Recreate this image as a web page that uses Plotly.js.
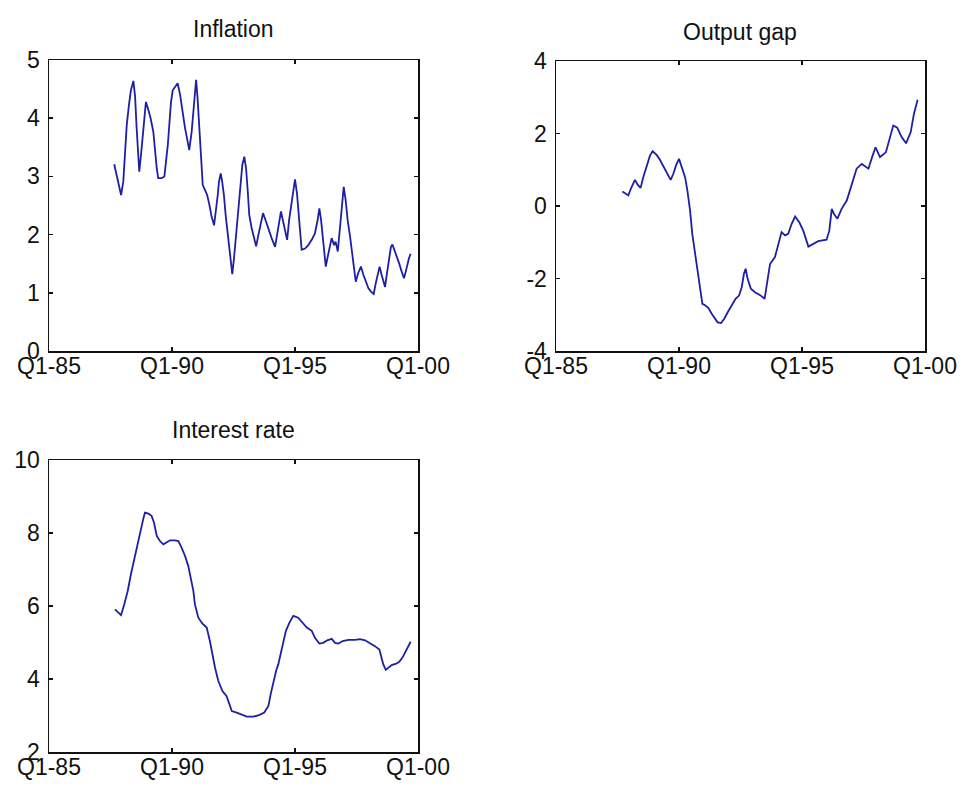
<!DOCTYPE html>
<html>
<head>
<meta charset="utf-8">
<script src="https://cdn.plot.ly/plotly-3.0.1.min.js"></script>
<style>html,body{margin:0;padding:0;background:#fff;}#chart{width:964px;height:789px;}</style>
</head>
<body>
<div id="chart"></div>
<script>
// ---- Data ----
const tickYears = [1985, 1990, 1995, 2000];
const tickLabels = ['Q1-85', 'Q1-90', 'Q1-95', 'Q1-00'];
const panelTitles = ['Inflation', 'Output gap', 'Interest rate'];

const inflationX = [
  1987.65,1987.82,1987.93,1988.02,1988.09,1988.16,1988.25,1988.33,1988.43,1988.50,
  1988.56,1988.63,1988.67,1988.74,1988.81,1988.87,1988.94,1989.04,1989.13,1989.24,
  1989.31,1989.38,1989.44,1989.58,1989.69,1989.76,1989.83,1989.89,1989.96,1990.03,
  1990.12,1990.23,1990.33,1990.42,1990.53,1990.60,1990.70,1990.80,1990.87,1990.93,
  1990.98,1991.04,1991.11,1991.18,1991.25,1991.34,1991.43,1991.52,1991.61,1991.71,
  1991.79,1991.86,1991.91,1991.98,1992.04,1992.11,1992.18,1992.25,1992.32,1992.39,
  1992.45,1992.52,1992.59,1992.66,1992.72,1992.79,1992.86,1992.94,1993.01,1993.08,
  1993.14,1993.24,1993.33,1993.42,1993.51,1993.60,1993.70,1993.80,1993.92,1994.05,
  1994.19,1994.30,1994.43,1994.52,1994.68,1994.76,1994.87,1994.93,1995.00,1995.08,
  1995.16,1995.27,1995.41,1995.54,1995.68,1995.81,1995.92,1995.99,1996.06,1996.15,
  1996.25,1996.33,1996.42,1996.49,1996.59,1996.65,1996.74,1996.80,1996.87,1996.92,
  1996.98,1997.06,1997.14,1997.24,1997.33,1997.41,1997.47,1997.57,1997.68,1997.78,
  1997.87,1997.98,1998.09,1998.20,1998.28,1998.36,1998.44,1998.52,1998.61,1998.66,
  1998.74,1998.82,1998.90,1998.96,1999.04,1999.13,1999.23,1999.34,1999.43,1999.50,
  1999.58,1999.63,1999.70
];
const inflationY = [
  3.21,2.91,2.68,2.91,3.37,3.88,4.23,4.48,4.64,4.37,
  3.85,3.37,3.08,3.37,3.71,4.08,4.28,4.14,4.00,3.77,
  3.42,3.14,2.97,2.97,3.00,3.25,3.54,3.88,4.28,4.48,
  4.54,4.60,4.40,4.11,3.83,3.68,3.45,3.77,4.11,4.46,
  4.66,4.34,3.77,3.20,2.85,2.77,2.68,2.51,2.31,2.16,
  2.39,2.68,2.91,3.05,2.91,2.68,2.34,2.05,1.79,1.59,
  1.32,1.59,1.94,2.31,2.65,2.94,3.20,3.34,3.14,2.74,
  2.34,2.11,1.94,1.80,1.99,2.20,2.37,2.25,2.08,1.94,
  1.79,2.08,2.40,2.22,1.91,2.25,2.54,2.77,2.95,2.71,
  2.25,1.74,1.76,1.82,1.91,2.02,2.25,2.45,2.25,1.91,
  1.45,1.62,1.79,1.94,1.82,1.88,1.71,2.02,2.31,2.59,
  2.82,2.59,2.25,1.96,1.68,1.34,1.19,1.34,1.45,1.31,
  1.19,1.08,1.02,0.98,1.16,1.34,1.45,1.31,1.16,1.10,
  1.34,1.56,1.79,1.83,1.74,1.62,1.51,1.36,1.25,1.36,
  1.51,1.59,1.67
];

const outputGapX = [
  1987.70,1987.85,1987.94,1988.04,1988.21,1988.32,1988.44,1988.55,1988.69,1988.82,
  1988.93,1989.09,1989.23,1989.39,1989.54,1989.66,1989.77,1989.88,1990.00,1990.11,
  1990.25,1990.34,1990.45,1990.54,1990.65,1990.74,1990.85,1990.95,1991.06,1991.19,
  1991.33,1991.46,1991.57,1991.71,1991.84,1991.98,1992.14,1992.30,1992.44,1992.55,
  1992.64,1992.71,1992.79,1992.92,1993.09,1993.30,1993.48,1993.56,1993.70,1993.90,
  1994.04,1994.17,1994.31,1994.44,1994.58,1994.72,1994.89,1995.05,1995.26,1995.46,
  1995.66,1996.00,1996.11,1996.21,1996.30,1996.44,1996.61,1996.82,1996.95,1997.09,
  1997.22,1997.43,1997.70,1997.87,1997.99,1998.17,1998.41,1998.58,1998.71,1998.87,
  1999.05,1999.23,1999.42,1999.55,1999.70
];
const outputGapY = [
  0.40,0.34,0.29,0.47,0.72,0.59,0.50,0.80,1.12,1.39,
  1.51,1.41,1.27,1.07,0.89,0.72,0.89,1.12,1.30,1.07,
  0.79,0.43,-0.12,-0.77,-1.32,-1.78,-2.24,-2.70,-2.74,-2.81,
  -2.97,-3.11,-3.21,-3.23,-3.11,-2.93,-2.73,-2.56,-2.47,-2.24,
  -1.87,-1.73,-2.01,-2.28,-2.38,-2.46,-2.56,-2.24,-1.60,-1.41,
  -1.04,-0.72,-0.81,-0.77,-0.49,-0.29,-0.45,-0.68,-1.12,-1.04,
  -0.97,-0.93,-0.68,-0.08,-0.22,-0.35,-0.08,0.15,0.43,0.79,
  1.03,1.16,1.03,1.39,1.62,1.35,1.48,1.90,2.22,2.16,
  1.90,1.73,2.04,2.54,2.93
];

const interestX = [
  1987.68,1987.93,1988.06,1988.20,1988.33,1988.47,1988.61,1988.74,1988.83,1988.90,
  1989.04,1989.17,1989.27,1989.38,1989.51,1989.65,1989.78,1989.92,1990.12,1990.26,
  1990.39,1990.53,1990.66,1990.77,1990.87,1990.93,1991.07,1991.23,1991.41,1991.54,
  1991.64,1991.75,1991.88,1992.05,1992.22,1992.32,1992.43,1992.63,1992.83,1993.04,
  1993.31,1993.54,1993.75,1993.92,1994.01,1994.12,1994.23,1994.32,1994.42,1994.52,
  1994.63,1994.77,1994.93,1995.13,1995.31,1995.48,1995.68,1995.81,1995.99,1996.15,
  1996.31,1996.49,1996.63,1996.76,1996.94,1997.17,1997.44,1997.64,1997.85,1998.05,
  1998.25,1998.43,1998.52,1998.59,1998.69,1998.79,1998.93,1999.11,1999.24,1999.38,
  1999.54,1999.70
];
const interestY = [
  5.91,5.75,6.05,6.41,6.87,7.32,7.69,8.10,8.38,8.56,
  8.53,8.47,8.28,7.92,7.78,7.69,7.75,7.80,7.80,7.78,
  7.60,7.37,7.10,6.78,6.41,6.05,5.68,5.52,5.41,5.04,
  4.68,4.31,3.95,3.67,3.53,3.31,3.12,3.08,3.03,2.97,
  2.97,3.01,3.08,3.26,3.58,3.95,4.22,4.40,4.68,4.95,
  5.32,5.54,5.73,5.68,5.54,5.41,5.32,5.13,4.97,4.99,
  5.06,5.10,4.99,4.97,5.04,5.07,5.07,5.09,5.06,4.99,
  4.90,4.81,4.58,4.40,4.25,4.31,4.38,4.42,4.47,4.60,
  4.79,5.02
];

const inflationTicks = [0, 1, 2, 3, 4, 5];
const outputGapTicks = [-4, -2, 0, 2, 4];
const interestTicks = [2, 4, 6, 8, 10];

// ---- Figure ----
const W = 964, H = 789;
const lineColor = '#1f1fa6';
const font = {family: 'Liberation Sans, Arial, sans-serif', size: 23, color: '#111'};

function px(a, b) { return [a / W, b / W]; }
function py(top, bottom) { return [1 - bottom / H, 1 - top / H]; }

function xAxis(domain, anchor) {
  return {
    domain: domain, anchor: anchor, range: [1985, 2000],
    tickmode: 'array', tickvals: tickYears, ticktext: tickLabels,
    ticks: 'inside', ticklen: 4, tickwidth: 1.5, tickcolor: '#111',
    showline: true, linecolor: '#111', linewidth: 1.5, mirror: 'ticks',
    showgrid: false, zeroline: false, tickfont: font, fixedrange: true,
    ticklabelstandoff: -6
  };
}
function yAxis(domain, anchor, range, ticks) {
  return {
    domain: domain, anchor: anchor, range: range,
    tickmode: 'array', tickvals: ticks, ticktext: ticks.map(String),
    ticks: 'inside', ticklen: 4, tickwidth: 1.5, tickcolor: '#111',
    showline: true, linecolor: '#111', linewidth: 1.5, mirror: 'ticks',
    showgrid: false, zeroline: false, tickfont: font, fixedrange: true,
    ticklabelstandoff: 3
  };
}

const trace = (x, y, xa, ya) => ({
  x: x, y: y, xaxis: xa, yaxis: ya, type: 'scatter', mode: 'lines',
  line: {color: lineColor, width: 1.8}, hoverinfo: 'skip'
});

const data = [
  trace(inflationX, inflationY, 'x', 'y'),
  trace(outputGapX, outputGapY, 'x2', 'y2'),
  trace(interestX, interestY, 'x3', 'y3')
];

const titleFont = {family: 'Liberation Sans, Arial, sans-serif', size: 23, color: '#111'};
const titleAnn = (text, cx, cy) => ({
  text: text, xref: 'paper', yref: 'paper', x: cx / W, y: 1 - cy / H,
  xanchor: 'center', yanchor: 'middle', showarrow: false, font: titleFont
});

const layout = {
  width: W, height: H, autosize: false,
  margin: {l: 0, r: 0, t: 0, b: 0},
  paper_bgcolor: '#fff', plot_bgcolor: '#fff',
  showlegend: false,
  xaxis: xAxis(px(49, 418), 'y'),
  yaxis: yAxis(py(60, 351), 'x', [0, 5], inflationTicks),
  xaxis2: xAxis(px(556, 925), 'y2'),
  yaxis2: yAxis(py(61, 351), 'x2', [-4, 4], outputGapTicks),
  xaxis3: xAxis(px(49, 418), 'y3'),
  yaxis3: yAxis(py(460, 752), 'x3', [2, 10], interestTicks),
  annotations: [
    titleAnn(panelTitles[0], 233, 29),
    titleAnn(panelTitles[1], 740, 32),
    titleAnn(panelTitles[2], 233, 430)
  ]
};

Plotly.newPlot('chart', data, layout, {staticPlot: true, displayModeBar: false});
</script>
</body>
</html>
